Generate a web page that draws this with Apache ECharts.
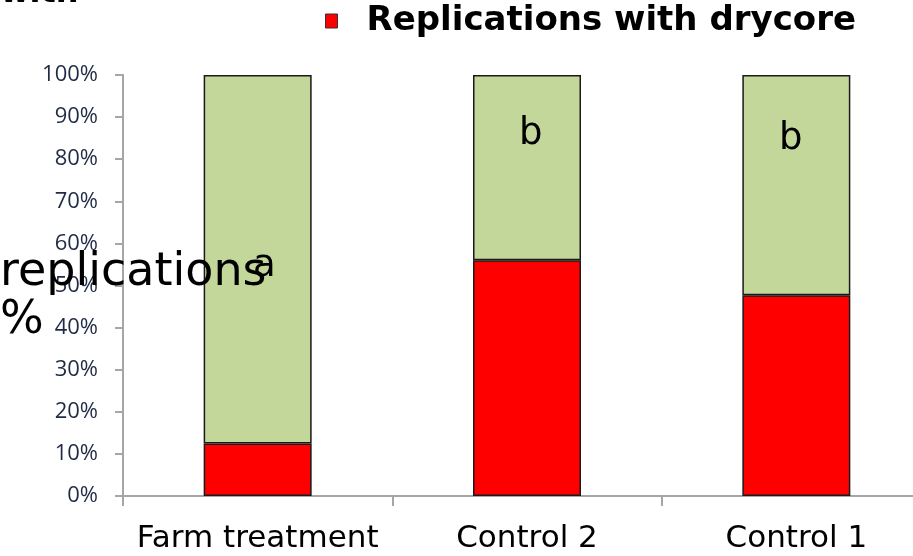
<!DOCTYPE html>
<html>
<head>
<meta charset="utf-8">
<script src="https://cdn.jsdelivr.net/npm/echarts@6/dist/echarts.min.js"></script>
<style>html,body{margin:0;padding:0;background:#fff;overflow:hidden;width:913px;height:556px;}#c{width:931px;height:556px;}</style>
</head>
<body>
<div id="c"></div>
<script>
var categories = ['Farm treatment', 'Control 2', 'Control 1'];
var drycore = [12.5, 56, 47.7];
var withoutDrycore = [87.5, 44, 52.3];
var letters = ['a', 'b', 'b'];
var yTicks = ['0%','10%','20%','30%','40%','50%','60%','70%','80%','90%','100%'];

var chart = echarts.init(document.getElementById('c'));
var font = 'DejaVu Sans';
chart.setOption({
  animation: false,
  grid: { left: 123, right: 0, top: 75, bottom: 60, containLabel: false },
  legend: {
    data: [{ name: 'Replications with drycore', icon: 'rect' }],
    left: 320, top: -1,
    itemWidth: 12, itemHeight: 14, itemGap: 10,
    itemStyle: { borderColor: '#333', borderWidth: 1 },
    textStyle: { fontFamily: font, fontWeight: 'bold', fontSize: 34, color: '#000', padding: [0, 0, 0, 24] }
  },
  xAxis: {
    type: 'category', data: categories,
    axisLine: { lineStyle: { color: '#a6a6a6', width: 2 } },
    axisTick: { show: true, interval: 0, length: 10, lineStyle: { color: '#a6a6a6', width: 2 } },
    axisLabel: { interval: 0, fontFamily: font, fontSize: 31, color: '#000', margin: 27 }
  },
  yAxis: {
    type: 'value', min: 0, max: 100, interval: 10,
    axisLine: { show: true, lineStyle: { color: '#a6a6a6', width: 2 } },
    axisTick: { show: true, inside: false, length: 8, lineStyle: { color: '#a6a6a6', width: 2 } },
    splitLine: { show: false },
    axisLabel: {
      fontFamily: 'Open Sans', fontSize: 22, color: '#1f2a44', margin: 25,
      formatter: function (v) { return yTicks[Math.round(v / 10)]; }
    }
  },
  series: [
    {
      name: 'Replications with drycore', type: 'bar', stack: 's', data: drycore,
      barWidth: 108,
      itemStyle: { color: '#ff0000', borderColor: '#1a1a1a', borderWidth: 1.5 }
    },
    {
      name: 'Replications without drycore', type: 'bar', stack: 's', data: withoutDrycore,
      barWidth: 108,
      itemStyle: { color: '#c4d79b', borderColor: '#1a1a1a', borderWidth: 1.5 }
    }
  ],
  graphic: [
    { type: 'text', z: 100, left: 0, top: -22, style: { text: 'with', fontFamily: font, fontWeight: 'bold', fontSize: 32, fill: '#000' } },
    { type: 'text', z: 100, left: 0, top: 250, style: { text: 'replications', fontFamily: font, fontSize: 46, fill: '#000' } },
    { type: 'text', z: 100, left: 0, top: 298, style: { text: '%', fontFamily: font, fontSize: 46, fill: '#000' } },
    { type: 'text', z: 100, left: 253, top: 248, style: { text: letters[0], fontFamily: font, fontSize: 37, fill: '#000' } },
    { type: 'text', z: 100, left: 519, top: 116, style: { text: letters[1], fontFamily: font, fontSize: 37, fill: '#000' } },
    { type: 'text', z: 100, left: 779, top: 121, style: { text: letters[2], fontFamily: font, fontSize: 37, fill: '#000' } }
  ]
});
</script>
</body>
</html>
